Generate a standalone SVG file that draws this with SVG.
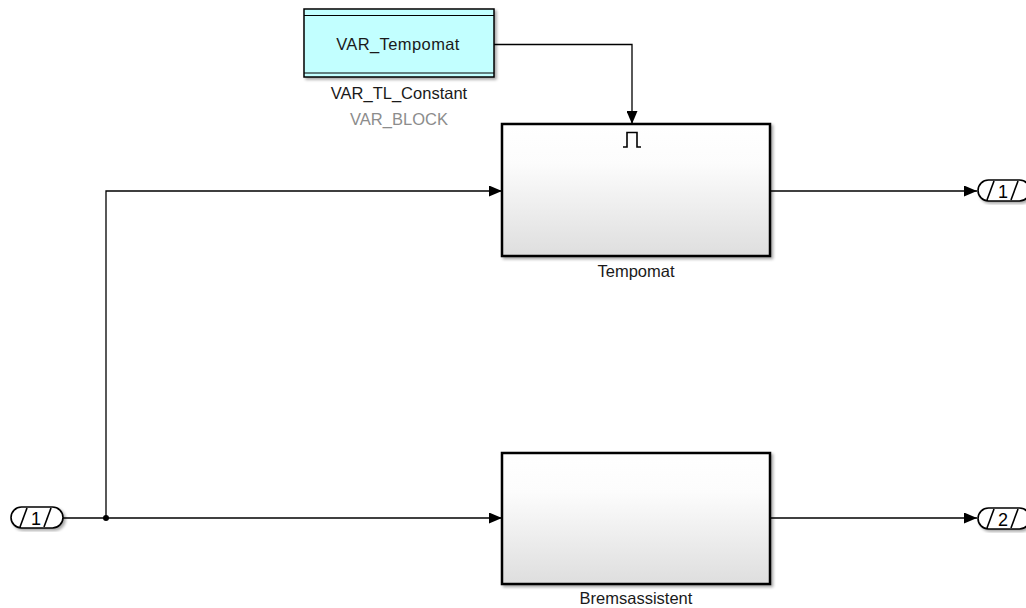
<svg xmlns="http://www.w3.org/2000/svg" width="1026" height="608" viewBox="0 0 1026 608">
<defs>
<linearGradient id="blk" x1="0" y1="0" x2="0" y2="1">
<stop offset="0" stop-color="#ffffff"/>
<stop offset="0.3" stop-color="#fcfcfc"/>
<stop offset="1" stop-color="#dedede"/>
</linearGradient>
<filter id="sh" x="-5%" y="-5%" width="115%" height="120%">
<feGaussianBlur in="SourceAlpha" stdDeviation="1.5"/>
<feOffset dx="2" dy="2" result="b"/>
<feComponentTransfer><feFuncA type="linear" slope="0.35"/></feComponentTransfer>
<feMerge><feMergeNode/><feMergeNode in="SourceGraphic"/></feMerge>
</filter>
<marker id="arr" markerWidth="13" markerHeight="11" refX="13" refY="5.5" orient="auto" markerUnits="userSpaceOnUse">
<path d="M0,0 L13,5.5 L0,11 Z" fill="#000"/>
</marker>
</defs>
<style>
text{font-family:"Liberation Sans",Arial,sans-serif;fill:#1a1a1a}
.lbl{font-size:16.5px;text-anchor:middle}
.blk{fill:url(#blk);stroke:#000;stroke-width:2.5}
.wire{fill:none;stroke:#000;stroke-width:1.3}
.port{fill:#fff;stroke:#000;stroke-width:1.6}
.sl{stroke:#000;stroke-width:1.6}
.num{font-size:18px;text-anchor:middle;fill:#000}
</style>
<rect width="1026" height="608" fill="#fff"/>

<g id="connectors">
<path class="wire" d="M494,44.5 H632 V124" marker-end="url(#arr)"/>
<path class="wire" d="M63,518 H502" marker-end="url(#arr)"/>
<path class="wire" d="M106,518 V191 H502" marker-end="url(#arr)"/>
<path class="wire" d="M770,191 H977" marker-end="url(#arr)"/>
<path class="wire" d="M770,518 H977" marker-end="url(#arr)"/>
<circle cx="106" cy="518" r="3" fill="#000"/>
</g>

<g id="var_tl_constant">
<rect x="304" y="9" width="190" height="68" fill="#c2ffff" stroke="#000" stroke-width="1.5" filter="url(#sh)"/>
<line x1="304" y1="15.5" x2="494" y2="15.5" stroke="#000" stroke-width="1"/>
<line x1="304" y1="73" x2="494" y2="73" stroke="#000" stroke-width="1"/>
<text x="398" y="50" class="lbl" style="letter-spacing:0.4px">VAR_Tempomat</text>
<text x="399" y="99" class="lbl">VAR_TL_Constant</text>
<text x="399" y="125" class="lbl" style="fill:#8c8c8c">VAR_BLOCK</text>
</g>

<g id="tempomat">
<rect class="blk" x="502" y="124" width="268" height="132" filter="url(#sh)"/>
<path d="M623,147 H627 V132.5 H637 V147 H641" fill="none" stroke="#000" stroke-width="1.6"/>
<text x="636" y="277" class="lbl">Tempomat</text>
</g>

<g id="bremsassistent">
<rect class="blk" x="502" y="453" width="268" height="131" filter="url(#sh)"/>
<text x="636" y="604" class="lbl">Bremsassistent</text>
</g>

<g id="inport1">
<rect class="port" x="11" y="507" width="52" height="21" rx="10.5" filter="url(#sh)"/>
<line class="sl" x1="20" y1="527" x2="27" y2="508"/>
<line class="sl" x1="44" y1="527" x2="51" y2="508"/>
<text x="36" y="524.5" class="num">1</text>
</g>

<g id="outport1">
<rect class="port" x="978" y="180" width="52" height="21" rx="10.5" filter="url(#sh)"/>
<line class="sl" x1="987" y1="200" x2="994" y2="181"/>
<line class="sl" x1="1011" y1="200" x2="1018" y2="181"/>
<text x="1003" y="197.5" class="num">1</text>
</g>

<g id="outport2">
<rect class="port" x="978" y="508" width="52" height="21" rx="10.5" filter="url(#sh)"/>
<line class="sl" x1="987" y1="528" x2="994" y2="509"/>
<line class="sl" x1="1011" y1="528" x2="1018" y2="509"/>
<text x="1003" y="525.5" class="num">2</text>
</g>
</svg>
